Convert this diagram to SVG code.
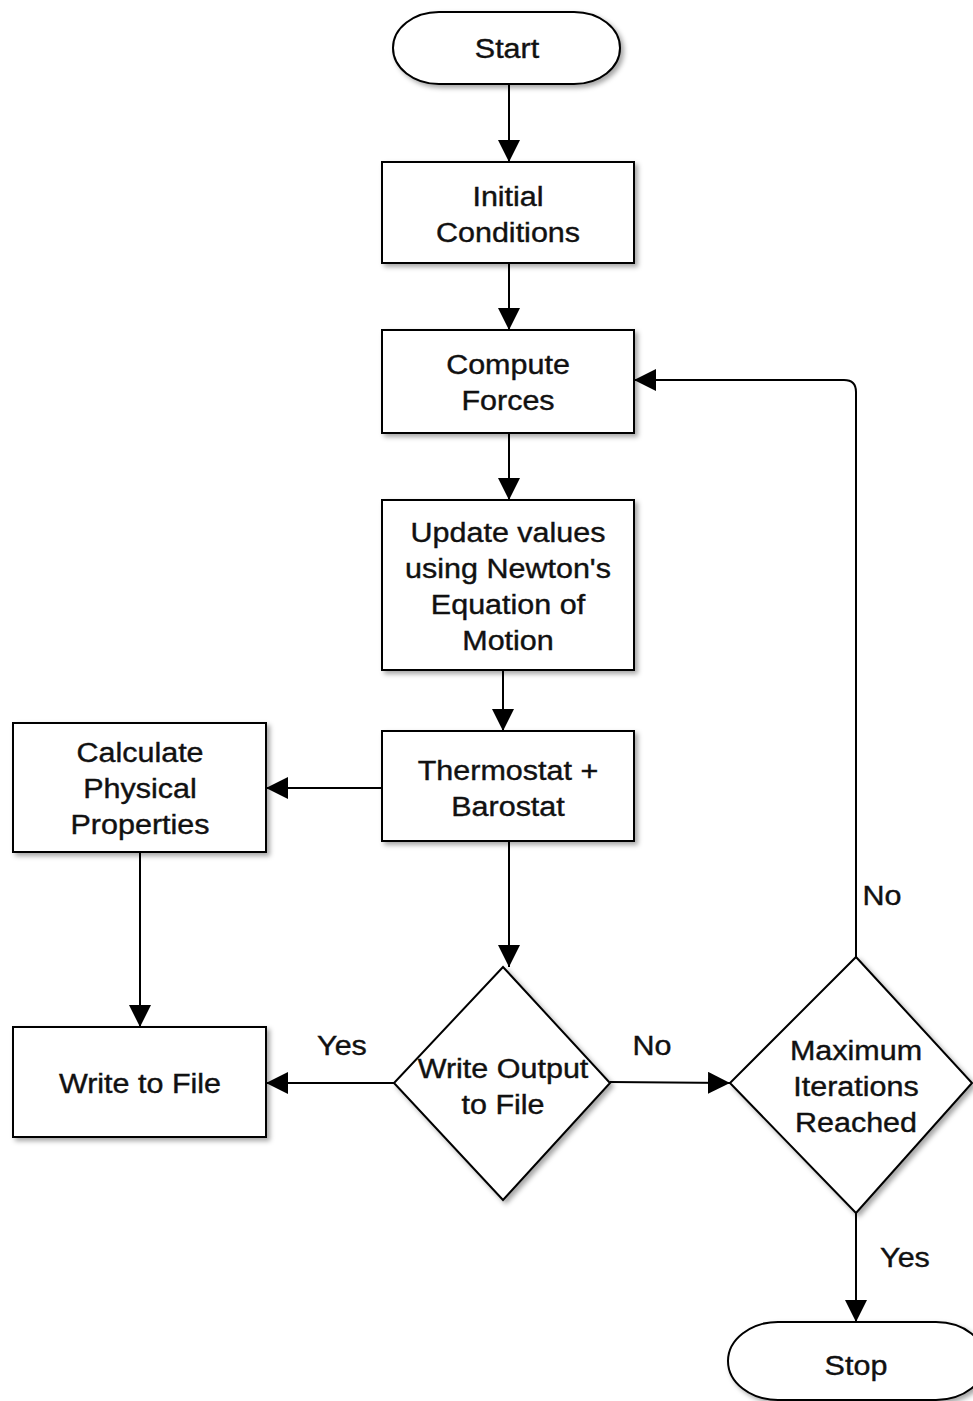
<svg xmlns="http://www.w3.org/2000/svg" width="973" height="1401" viewBox="0 0 973 1401">
<defs>
<filter id="sh" x="-10%" y="-10%" width="130%" height="130%">
<feDropShadow dx="3" dy="3" stdDeviation="2.5" flood-color="#000" flood-opacity="0.35"/>
</filter>
<marker id="ah2" markerWidth="22" markerHeight="22" viewBox="0 0 22 22" refX="22" refY="11" orient="auto" markerUnits="userSpaceOnUse">
<path d="M0,0 L22,11 L0,22 z" fill="#000"/>
</marker>
</defs>
<style>
.n{fill:#fff;stroke:#000;stroke-width:2;filter:url(#sh)}
.t{font-family:"Liberation Sans",Arial,sans-serif;font-size:28px;fill:#111;stroke:#111;stroke-width:0.4;text-anchor:middle}
.c{fill:none;stroke:#000;stroke-width:2;marker-end:url(#ah2)}
</style>
<rect width="973" height="1401" fill="#fff"/>
<g id="connectors">
<path class="c" d="M509,84 V162"/>
<path class="c" d="M509,263 V330"/>
<path class="c" d="M509,433 V500"/>
<path class="c" d="M503,670 V731"/>
<path class="c" d="M382,788 H266"/>
<path class="c" d="M140,852 V1027"/>
<path class="c" d="M509,841 V967"/>
<path class="c" d="M394,1083 H266"/>
<path class="c" d="M610,1082 L730,1083"/>
<path class="c" d="M856,957 V392 Q856,380 844,380 H634"/>
<path class="c" d="M856,1213 V1322"/>
<text class="t" transform="translate(342 1055) scale(1.09 1)">Yes</text>
<text class="t" transform="translate(652 1055) scale(1.09 1)">No</text>
<text class="t" transform="translate(882 905) scale(1.09 1)">No</text>
<text class="t" transform="translate(905 1267) scale(1.09 1)">Yes</text>
</g>
<g id="start">
<rect class="n" x="393" y="12" width="227" height="72" rx="46" ry="36"/>
<text class="t" transform="translate(507 58) scale(1.09 1)">Start</text>
</g>
<g id="initial">
<rect class="n" x="382" y="162" width="252" height="101"/>
<text class="t" transform="translate(508 206) scale(1.09 1)">Initial</text>
<text class="t" transform="translate(508 242) scale(1.09 1)">Conditions</text>
</g>
<g id="compute">
<rect class="n" x="382" y="330" width="252" height="103"/>
<text class="t" transform="translate(508 374) scale(1.09 1)">Compute</text>
<text class="t" transform="translate(508 410) scale(1.09 1)">Forces</text>
</g>
<g id="update">
<rect class="n" x="382" y="500" width="252" height="170"/>
<text class="t" transform="translate(508 542) scale(1.09 1)">Update values</text>
<text class="t" transform="translate(508 578) scale(1.09 1)">using Newton's</text>
<text class="t" transform="translate(508 614) scale(1.09 1)">Equation of</text>
<text class="t" transform="translate(508 650) scale(1.09 1)">Motion</text>
</g>
<g id="thermo">
<rect class="n" x="382" y="731" width="252" height="110"/>
<text class="t" transform="translate(508 780) scale(1.09 1)">Thermostat +</text>
<text class="t" transform="translate(508 816) scale(1.09 1)">Barostat</text>
</g>
<g id="calc">
<rect class="n" x="13" y="723" width="253" height="129"/>
<text class="t" transform="translate(140 762) scale(1.09 1)">Calculate</text>
<text class="t" transform="translate(140 798) scale(1.09 1)">Physical</text>
<text class="t" transform="translate(140 834) scale(1.09 1)">Properties</text>
</g>
<g id="write">
<rect class="n" x="13" y="1027" width="253" height="110"/>
<text class="t" transform="translate(140 1093) scale(1.09 1)">Write to File</text>
</g>
<g id="wo">
<polygon class="n" points="503,967 610,1083 503,1200 394,1083"/>
<text class="t" transform="translate(503 1078) scale(1.09 1)">Write Output</text>
<text class="t" transform="translate(503 1114) scale(1.09 1)">to File</text>
</g>
<g id="max">
<polygon class="n" points="856,957 972,1083 856,1213 730,1083"/>
<text class="t" transform="translate(856 1060) scale(1.09 1)">Maximum</text>
<text class="t" transform="translate(856 1096) scale(1.09 1)">Iterations</text>
<text class="t" transform="translate(856 1132) scale(1.09 1)">Reached</text>
</g>
<g id="stop">
<rect class="n" x="728" y="1322" width="258" height="78" rx="50" ry="39"/>
<text class="t" transform="translate(856 1375) scale(1.09 1)">Stop</text>
</g>
</svg>
